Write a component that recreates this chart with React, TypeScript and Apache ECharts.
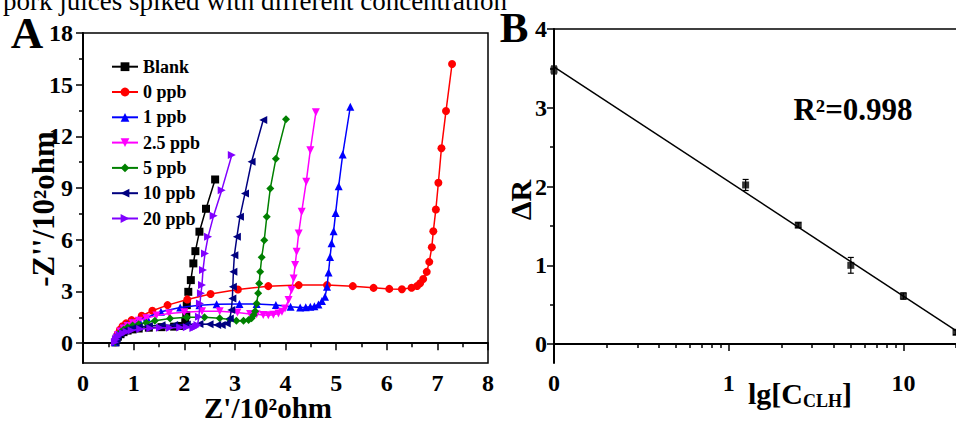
import React, { useEffect, useRef } from 'react';
import * as echarts from 'echarts';

const FONT = '"Liberation Serif", "Times New Roman", serif';

const seriesNames = ['Blank', '0 ppb', '1 ppb', '2.5 ppb', '5 ppb', '10 ppb', '20 ppb'];
const seriesColors = ['#000000', '#ff0000', '#0000ff', '#ff00ff', '#008000', '#000080', '#8000ff'];
const seriesSymbols = ['rect', 'circle', 'triangle', 'triangle', 'diamond', 'triangle', 'triangle'];
const seriesRotate = [0, 0, 0, 180, 0, 90, -90];

const blankData = [
  [0.64, 0.05], [0.66, 0.22], [0.69, 0.38], [0.74, 0.52], [0.8, 0.64], [0.88, 0.73], [0.98, 0.8],
  [1.1, 0.85], [1.3, 0.9], [1.55, 0.93], [1.8, 0.96], [1.95, 1.0], [2.02, 1.24], [2.04, 1.63],
  [2.05, 2.21], [2.08, 2.98], [2.13, 3.66], [2.18, 4.63], [2.22, 5.34], [2.3, 6.47], [2.43, 7.8], [2.61, 9.5],
];
const ppb0Data = [
  [0.64, 0.05], [0.66, 0.3], [0.69, 0.55], [0.73, 0.78], [0.78, 0.98], [0.85, 1.15], [0.96, 1.34],
  [1.16, 1.59], [1.37, 1.88], [1.67, 2.21], [2.06, 2.54], [2.52, 2.85], [3.06, 3.12], [3.66, 3.31],
  [4.26, 3.37], [4.82, 3.37], [5.33, 3.31], [5.74, 3.21], [6.05, 3.15], [6.3, 3.13], [6.49, 3.22],
  [6.6, 3.32], [6.66, 3.48], [6.72, 3.72], [6.79, 4.14], [6.84, 4.72], [6.89, 5.57], [6.92, 6.5],
  [6.97, 7.76], [7.02, 9.31], [7.08, 11.31], [7.17, 13.47], [7.29, 16.2],
];
const ppb1Data = [
  [0.64, 0.05], [0.66, 0.3], [0.69, 0.52], [0.73, 0.72], [0.79, 0.92], [0.87, 1.08], [0.97, 1.22],
  [1.1, 1.36], [1.26, 1.49], [1.54, 1.82], [1.92, 2.07], [2.3, 2.2], [2.64, 2.26], [3.09, 2.27],
  [3.43, 2.28], [3.81, 2.21], [4.1, 2.12], [4.29, 2.07], [4.4, 2.08], [4.49, 2.11], [4.57, 2.15],
  [4.65, 2.25], [4.72, 2.45], [4.78, 2.69], [4.82, 3.27], [4.85, 4.1], [4.88, 5.0], [4.91, 5.8],
  [4.95, 6.5], [4.99, 7.55], [5.05, 9.1], [5.13, 10.95], [5.28, 13.72],
];
const ppb25Data = [
  [0.64, 0.05], [0.66, 0.28], [0.69, 0.48], [0.74, 0.68], [0.8, 0.85], [0.88, 1.0], [0.98, 1.15],
  [1.1, 1.3], [1.25, 1.45], [1.45, 1.6], [1.7, 1.72], [2.0, 1.8], [2.35, 1.85], [2.7, 1.85],
  [3.05, 1.78], [3.3, 1.7], [3.43, 1.68], [3.56, 1.63], [3.66, 1.62], [3.76, 1.65], [3.86, 1.72],
  [3.93, 1.82], [3.99, 2.01], [4.06, 2.5], [4.12, 3.08], [4.16, 3.76], [4.19, 4.53], [4.22, 5.3],
  [4.26, 6.37], [4.32, 7.62], [4.41, 9.37], [4.49, 11.2], [4.6, 13.4],
];
const ppb5Data = [
  [0.64, 0.05], [0.66, 0.26], [0.69, 0.45], [0.74, 0.63], [0.8, 0.78], [0.88, 0.92], [0.98, 1.02],
  [1.1, 1.1], [1.25, 1.18], [1.42, 1.3], [1.72, 1.43], [2.05, 1.5], [2.4, 1.5], [2.7, 1.45],
  [2.9, 1.38], [3.03, 1.3], [3.17, 1.3], [3.27, 1.35], [3.33, 1.45], [3.37, 1.63], [3.4, 1.85],
  [3.43, 2.3], [3.46, 2.9], [3.48, 3.47], [3.5, 4.14], [3.53, 4.98], [3.58, 5.98], [3.63, 7.33],
  [3.7, 8.98], [3.81, 10.7], [4.01, 13.0],
];
const ppb10Data = [
  [0.64, 0.05], [0.66, 0.25], [0.69, 0.42], [0.74, 0.57], [0.8, 0.7], [0.88, 0.8], [0.98, 0.88],
  [1.1, 0.94], [1.3, 1.0], [1.55, 1.04], [1.8, 1.05], [2.05, 1.08], [2.3, 1.12], [2.5, 1.1],
  [2.65, 1.06], [2.74, 1.05], [2.84, 1.14], [2.9, 1.43], [2.93, 1.92], [2.95, 2.6], [2.96, 3.27],
  [2.97, 4.14], [2.99, 5.11], [3.04, 6.17], [3.1, 7.33], [3.2, 8.69], [3.33, 10.53], [3.56, 12.95],
];
const ppb20Data = [
  [0.63, 0.05], [0.65, 0.22], [0.68, 0.36], [0.73, 0.48], [0.79, 0.58], [0.86, 0.66], [0.96, 0.74],
  [1.13, 0.82], [1.33, 0.87], [1.52, 0.89], [1.72, 0.9], [1.92, 0.91], [2.05, 0.93], [2.18, 0.88],
  [2.23, 0.95], [2.26, 1.05], [2.29, 1.53], [2.31, 2.3], [2.33, 2.9], [2.35, 3.37], [2.37, 4.24],
  [2.41, 5.21], [2.47, 6.17], [2.58, 7.4], [2.74, 8.88], [2.94, 10.92],
];
const nyquistData = [blankData, ppb0Data, ppb1Data, ppb25Data, ppb5Data, ppb10Data, ppb20Data];

const aYTicks = [0, 3, 6, 9, 12, 15, 18];
const aYMinorTicks = [1.5, 4.5, 7.5, 10.5, 13.5, 16.5];

const concentrations = [0.1, 1.25, 2.5, 5, 10, 20];
const deltaR = [3.48, 2.02, 1.51, 1.0, 0.61, 0.15];
const deltaRErr = [0.05, 0.07, 0.03, 0.1, 0.04, 0.03];
const fitLine = [[0.1, 3.52], [20, 0.17]];
const bXTicks = [0.1, 1, 10];
const bXTickLabels = ['0', '1', '10'];
const bXMinorTicks = [0.2, 0.3, 0.4, 0.5, 0.6, 0.7, 0.8, 0.9, 2, 3, 4, 5, 6, 7, 8, 9, 20];
const bYTicks = [0, 1, 2, 3, 4];
const bYMinorTicks = [0.5, 1.5, 2.5, 3.5];

const labelStyle = { fontFamily: FONT, fontWeight: 'bold' as const, fontSize: 24, color: '#000' };
const xLabelStyle = { ...labelStyle, lineHeight: 18, margin: 11 };
const lineStyleAxis = { color: '#000', width: 2 };

export default function App() {
  const ref = useRef<HTMLDivElement>(null);
  useEffect(() => {
    if (!ref.current) return;
    const chart = echarts.init(ref.current, null, { renderer: 'svg' });
    const scatterB = concentrations.map((c, i) => [c, deltaR[i]]);
    const errB = concentrations.map((c, i) => [c, deltaR[i], deltaRErr[i]]);
    const option: any = {
      animation: false,
      backgroundColor: '#fff',
      grid: [
        { left: 83, top: 33, right: 468, bottom: 61, show: true, borderColor: '#000', borderWidth: 1.5, backgroundColor: 'transparent' },
        { left: 554, top: 29, right: 0, bottom: 61 },
      ],
      legend: {
        orient: 'vertical',
        left: 106,
        top: 52.7,
        itemWidth: 26,
        itemHeight: 11,
        itemGap: 7.3,
        data: seriesNames,
        textStyle: { fontFamily: FONT, fontWeight: 'bold', fontSize: 18, lineHeight: 18, color: '#000' },
      },
      xAxis: [
        {
          gridIndex: 0, type: 'value', min: 0, max: 8, interval: 1,
          axisLine: { lineStyle: lineStyleAxis },
          axisTick: { length: 7, lineStyle: { color: '#000', width: 1.5 } },
          minorTick: { show: true, splitNumber: 2, length: 4, lineStyle: { color: '#000', width: 1.5 } },
          axisLabel: xLabelStyle,
          splitLine: { show: false },
        },
        {
          gridIndex: 1, type: 'log', logBase: 10, min: 0.1, max: 20, position: 'bottom',
          axisLine: { lineStyle: lineStyleAxis },
          axisTick: { length: 7, customValues: bXTicks, lineStyle: { color: '#000', width: 1.5 } },
          axisLabel: {
            ...xLabelStyle, customValues: bXTicks,
            formatter: (v: number) => {
              const idx = bXTicks.findIndex((t) => Math.abs(t - v) < 1e-6);
              return idx >= 0 ? bXTickLabels[idx] : '';
            },
          },
          splitLine: { show: false },
        },
        {
          gridIndex: 1, type: 'log', logBase: 10, min: 0.1, max: 20, position: 'bottom', offset: 0,
          axisLine: { show: false },
          axisTick: { length: 4, customValues: bXMinorTicks, lineStyle: { color: '#000', width: 1.5 } },
          axisLabel: { show: false },
          splitLine: { show: false },
        },
        {
          gridIndex: 1, type: 'log', logBase: 10, min: 0.1, max: 20, position: 'top',
          axisLine: { lineStyle: { color: '#000', width: 1.5 } },
          axisTick: { show: false }, axisLabel: { show: false }, splitLine: { show: false },
        },
      ],
      yAxis: [
        {
          gridIndex: 0, type: 'value', min: -1.15, max: 18,
          axisLine: { show: true, lineStyle: lineStyleAxis },
          axisTick: { show: true, length: 7, customValues: aYTicks, lineStyle: { color: '#000', width: 1.5 } },
          axisLabel: { ...labelStyle, margin: 10, customValues: aYTicks },
          splitLine: { show: false },
        },
        {
          gridIndex: 0, type: 'value', min: -1.15, max: 18, position: 'left', offset: 0,
          axisLine: { show: false },
          axisTick: { show: true, length: 4, customValues: aYMinorTicks, lineStyle: { color: '#000', width: 1.5 } },
          axisLabel: { show: false },
          splitLine: { show: false },
        },
        {
          gridIndex: 1, type: 'value', min: -0.24, max: 4,
          axisLine: { show: true, lineStyle: lineStyleAxis },
          axisTick: { show: true, length: 7, customValues: bYTicks, lineStyle: { color: '#000', width: 1.5 } },
          axisLabel: { ...labelStyle, margin: 7, customValues: bYTicks },
          splitLine: { show: false },
        },
        {
          gridIndex: 1, type: 'value', min: -0.24, max: 4, position: 'left', offset: 0,
          axisLine: { show: false },
          axisTick: { show: true, length: 4, customValues: bYMinorTicks, lineStyle: { color: '#000', width: 1.5 } },
          axisLabel: { show: false },
          splitLine: { show: false },
        },
      ],
      series: [
        ...seriesNames.map((name, i) => ({
          type: 'line',
          name,
          xAxisIndex: 0,
          yAxisIndex: 0,
          data: nyquistData[i],
          symbol: seriesSymbols[i],
          symbolRotate: seriesRotate[i],
          symbolSize: 8,
          showSymbol: true,
          color: seriesColors[i],
          itemStyle: { color: seriesColors[i] },
          lineStyle: { color: seriesColors[i], width: 1.5 },
          z: 2 + i,
        })),
        {
          type: 'line', name: 'fit', xAxisIndex: 1, yAxisIndex: 2, data: fitLine,
          showSymbol: false, symbol: 'none', lineStyle: { color: '#000', width: 1.5 }, z: 2,
        },
        {
          type: 'custom', name: 'err', xAxisIndex: 1, yAxisIndex: 2, data: errB, z: 3,
          renderItem: (params: any, api: any) => {
            const x = api.value(0);
            const y = api.value(1);
            const e = api.value(2);
            const top = api.coord([x, y + e]);
            const bot = api.coord([x, y - e]);
            const w = 3;
            const st = { stroke: '#000', lineWidth: 1.2 };
            return {
              type: 'group',
              children: [
                { type: 'line', shape: { x1: top[0], y1: top[1], x2: bot[0], y2: bot[1] }, style: st },
                { type: 'line', shape: { x1: top[0] - w, y1: top[1], x2: top[0] + w, y2: top[1] }, style: st },
                { type: 'line', shape: { x1: bot[0] - w, y1: bot[1], x2: bot[0] + w, y2: bot[1] }, style: st },
              ],
            };
          },
        },
        {
          type: 'scatter', name: 'ΔR', xAxisIndex: 1, yAxisIndex: 2, data: scatterB,
          symbol: 'rect', symbolSize: 7, itemStyle: { color: '#000' }, z: 4,
        },
      ],
      graphic: [
        {
          type: 'text', x: 3, y: 1,
          style: { text: 'pork juices spiked with different concentration', font: `27px ${FONT}`, lineHeight: 20, fill: '#000', align: 'left', verticalAlign: 'middle' },
        },
        {
          type: 'text', x: 27, y: 33,
          style: { text: 'A', font: `bold 45px ${FONT}`, lineHeight: 38, fill: '#000', align: 'center', verticalAlign: 'middle' },
        },
        {
          type: 'text', x: 514, y: 27,
          style: { text: 'B', font: `bold 43px ${FONT}`, lineHeight: 36, fill: '#000', align: 'center', verticalAlign: 'middle' },
        },
        {
          type: 'text', x: 268, y: 408,
          style: { text: "Z'/10²ohm", font: `bold 29px ${FONT}`, lineHeight: 28, fill: '#000', align: 'center', verticalAlign: 'middle' },
        },
        {
          type: 'text', x: 43, y: 209, rotation: Math.PI / 2,
          style: { text: "-Z''/10²ohm", font: `bold 31px ${FONT}`, fill: '#000', align: 'center', verticalAlign: 'middle' },
        },
        {
          type: 'text', x: 520, y: 200, rotation: Math.PI / 2,
          style: { text: 'ΔR', font: `bold 30px ${FONT}`, fill: '#000', align: 'center', verticalAlign: 'middle' },
        },
        {
          type: 'text', x: 800, y: 393,
          style: {
            text: '{m|lg[C}{s|CLH}{m|]}',
            align: 'center', verticalAlign: 'middle',
            rich: {
              m: { fontFamily: FONT, fontWeight: 'bold', fontSize: 30, fill: '#000', color: '#000', lineHeight: 34, verticalAlign: 'middle' },
              s: { fontFamily: FONT, fontWeight: 'bold', fontSize: 18, fill: '#000', color: '#000', lineHeight: 34, verticalAlign: 'bottom' },
            },
          },
        },
        {
          type: 'text', x: 853, y: 109,
          style: { text: 'R²=0.998', font: `bold 31px ${FONT}`, fill: '#000', align: 'center', verticalAlign: 'middle' },
        },
      ],
    };
    chart.setOption(option);
    return () => chart.dispose();
  }, []);
  return (
    <div
      ref={ref}
      style={{ position: 'fixed', left: 0, top: 0, width: 956, height: 424, background: '#fff' }}
    />
  );
}
